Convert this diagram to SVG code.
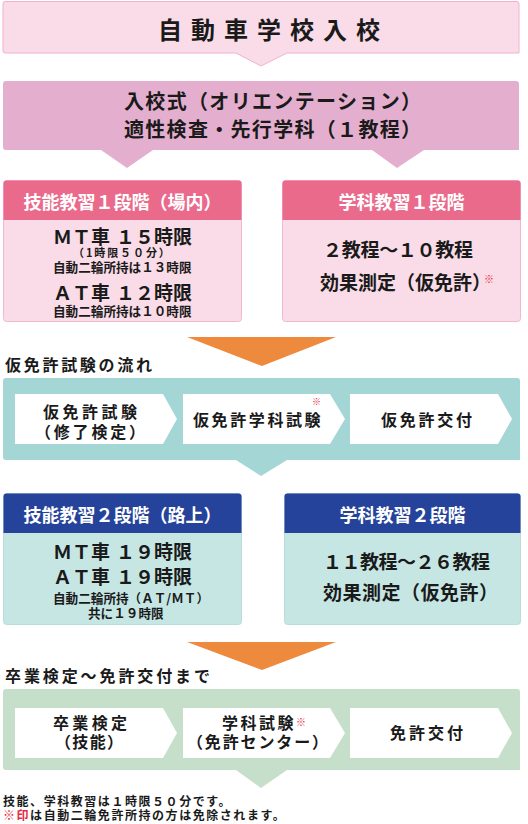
<svg xmlns="http://www.w3.org/2000/svg" width="528" height="824" viewBox="0 0 528 824">
<style>
text{font-family:"Noto Sans CJK JP","Noto Sans",sans-serif;font-weight:700;fill:#1a1a1a}
.hd{fill:#fff;font-size:18px;text-anchor:middle}
.big{font-size:19px}
.sm{font-size:12.6px}
.ft{font-size:12px;letter-spacing:1.55px}
.st{font-size:16px}
.red{fill:#e8283c}
.pent{fill:#fff}
</style>
<rect width="528" height="824" fill="#fff"/>
<g id="connectors">
<polygon points="187,337 336,337 262,366" fill="#ee8a3e"/>
<polygon points="187,642 336,642 262,670" fill="#ee8a3e"/>
</g>
<g id="entry">
<path d="M5,1.5 H517 Q519,1.5 519,4 V53 H287 L261,66 L236,53 H5 Q3,53 3,51 V4 Q3,1.5 5,1.5 Z" fill="#f9dce7" stroke="#f2b0cd" stroke-width="1"/>
<text x="158" y="39" font-size="24" textLength="222" lengthAdjust="spacing">自動車学校入校</text>
</g>
<g id="ceremony">
<path d="M6,81 H516 Q519,81 519,84 V150 H424 L397,168 L372,150 H153 L127,168 L101,150 H6 Q3,150 3,147 V84 Q3,81 6,81 Z" fill="#e4afcf"/>
<text x="124" y="109" font-size="20" textLength="297" lengthAdjust="spacing">入校式（オリエンテーション）</text>
<text x="124" y="137" font-size="20" textLength="297" lengthAdjust="spacing">適性検査・先行学科（１教程）</text>
</g>
<g id="skill1">
<rect x="3.5" y="180.5" width="238" height="141" rx="3" fill="#f9dce7" stroke="#f2b8d2"/>
<path d="M3.5,220 V183.5 Q3.5,180.5 6.5,180.5 H238.5 Q241.5,180.5 241.5,183.5 V220 Z" fill="#ea6a8c"/>
<text class="hd" x="122.5" y="208.5">技能教習１段階（場内）</text>
<text class="big"><tspan x="53" y="243.5">ＭＴ車</tspan><tspan x="116" y="243.5">１５時限</tspan><tspan x="73" y="257" font-size="11" letter-spacing="1.9">（1時限５０分）</tspan><tspan class="sm" x="53" y="271.5">自動二輪所持は１３時限</tspan><tspan x="53" y="299.5">ＡＴ車</tspan><tspan x="116" y="299.5">１２時限</tspan><tspan class="sm" x="53" y="315.5">自動二輪所持は１０時限</tspan></text>
</g>
<g id="lecture1">
<rect x="282.5" y="180.5" width="238" height="141" rx="3" fill="#f9dce7" stroke="#f2b8d2"/>
<path d="M282.5,220 V183.5 Q282.5,180.5 285.5,180.5 H517.5 Q520.5,180.5 520.5,183.5 V220 Z" fill="#ea6a8c"/>
<text class="hd" x="401.5" y="208.5">学科教習１段階</text>
<text class="big" x="323" y="257" textLength="150" lengthAdjust="spacing">２教程～１０教程</text>
<text class="big" x="320" y="290">効果測定（仮免許）<tspan class="red" font-size="10" dx="-7" dy="-7">※</tspan></text>
</g>
<text class="st" x="5" y="371" textLength="147" lengthAdjust="spacing">仮免許試験の流れ</text>
<g id="provisional">
<path d="M6,378 H517 Q520,378 520,381 V460 H287 L261,476 L236,460 H6 Q3,460 3,457 V381 Q3,378 6,378 Z" fill="#a4d6d5"/>
<path class="pent" d="M15,394 H163 L177,419 L163,444 H15 Z"/>
<path class="pent" d="M183,394 H330 L345,419 L330,444 H183 Z"/>
<path class="pent" d="M350,394 H498 L512,419 L498,444 H350 Z"/>
<text class="st" x="43" y="418" textLength="94" lengthAdjust="spacing">仮免許試験</text>
<text class="st" x="35" y="438" textLength="110" lengthAdjust="spacing">（修了検定）</text>
<text class="st" x="193" y="426" letter-spacing="2.6">仮免許学科試験<tspan class="red" x="312" y="404.5" font-size="9" letter-spacing="0">※</tspan></text>
<text class="st" x="381" y="426" textLength="91" lengthAdjust="spacing">仮免許交付</text>
</g>
<g id="skill2">
<rect x="3.5" y="493.5" width="238" height="131" rx="3" fill="#c6e6e4" stroke="#b9dcdc"/>
<path d="M3.5,533 V496.5 Q3.5,493.5 6.5,493.5 H238.5 Q241.5,493.5 241.5,496.5 V533 Z" fill="#25439a"/>
<text class="hd" x="122.5" y="521.5">技能教習２段階（路上）</text>
<text class="big"><tspan x="53" y="558.5">ＭＴ車</tspan><tspan x="116" y="558.5">１９時限</tspan><tspan x="53" y="583.5">ＡＴ車</tspan><tspan x="116" y="583.5">１９時限</tspan><tspan class="sm" x="53" y="602.5">自動二輪所持（ＡＴ/ＭＴ）</tspan><tspan class="sm" x="88" y="617.5">共に１９時限</tspan></text>
</g>
<g id="lecture2">
<rect x="284.5" y="493.5" width="236" height="131" rx="3" fill="#c6e6e4" stroke="#b9dcdc"/>
<path d="M284.5,533 V496.5 Q284.5,493.5 287.5,493.5 H517.5 Q520.5,493.5 520.5,496.5 V533 Z" fill="#25439a"/>
<text class="hd" x="402.5" y="521.5">学科教習２段階</text>
<text class="big" x="323" y="569" textLength="167" lengthAdjust="spacing">１１教程～２６教程</text>
<text class="big" x="323" y="600" textLength="175" lengthAdjust="spacing">効果測定（仮免許）</text>
</g>
<text class="st" x="5" y="682" textLength="205" lengthAdjust="spacing">卒業検定～免許交付まで</text>
<g id="graduation">
<path d="M6,689 H517 Q520,689 520,692 V770 H287 L261,788 L236,770 H6 Q3,770 3,767 V692 Q3,689 6,689 Z" fill="#c6dfca"/>
<path class="pent" d="M15,708 H163 L177,733 L163,758 H15 Z"/>
<path class="pent" d="M183,708 H330 L345,733 L330,758 H183 Z"/>
<path class="pent" d="M350,708 H498 L512,733 L498,758 H350 Z"/>
<text class="st" x="53" y="729" textLength="74" lengthAdjust="spacing">卒業検定</text>
<text class="st" x="55" y="748" textLength="68" lengthAdjust="spacing">（技能）</text>
<text class="st" x="222" y="729" letter-spacing="2.5">学科試験<tspan class="red" font-size="10" dy="-3" letter-spacing="0">※</tspan></text>
<text class="st" x="187" y="748" textLength="141" lengthAdjust="spacing">（免許センター）</text>
<text class="st" x="390" y="739" textLength="73" lengthAdjust="spacing">免許交付</text>
</g>
<g id="notes">
<text class="ft"><tspan x="3" y="806">技能、学科教習は１時限５０分です。</tspan><tspan x="3" y="820"><tspan class="red">※印</tspan>は自動二輪免許所持の方は免除されます。</tspan></text>
</g>
</svg>
